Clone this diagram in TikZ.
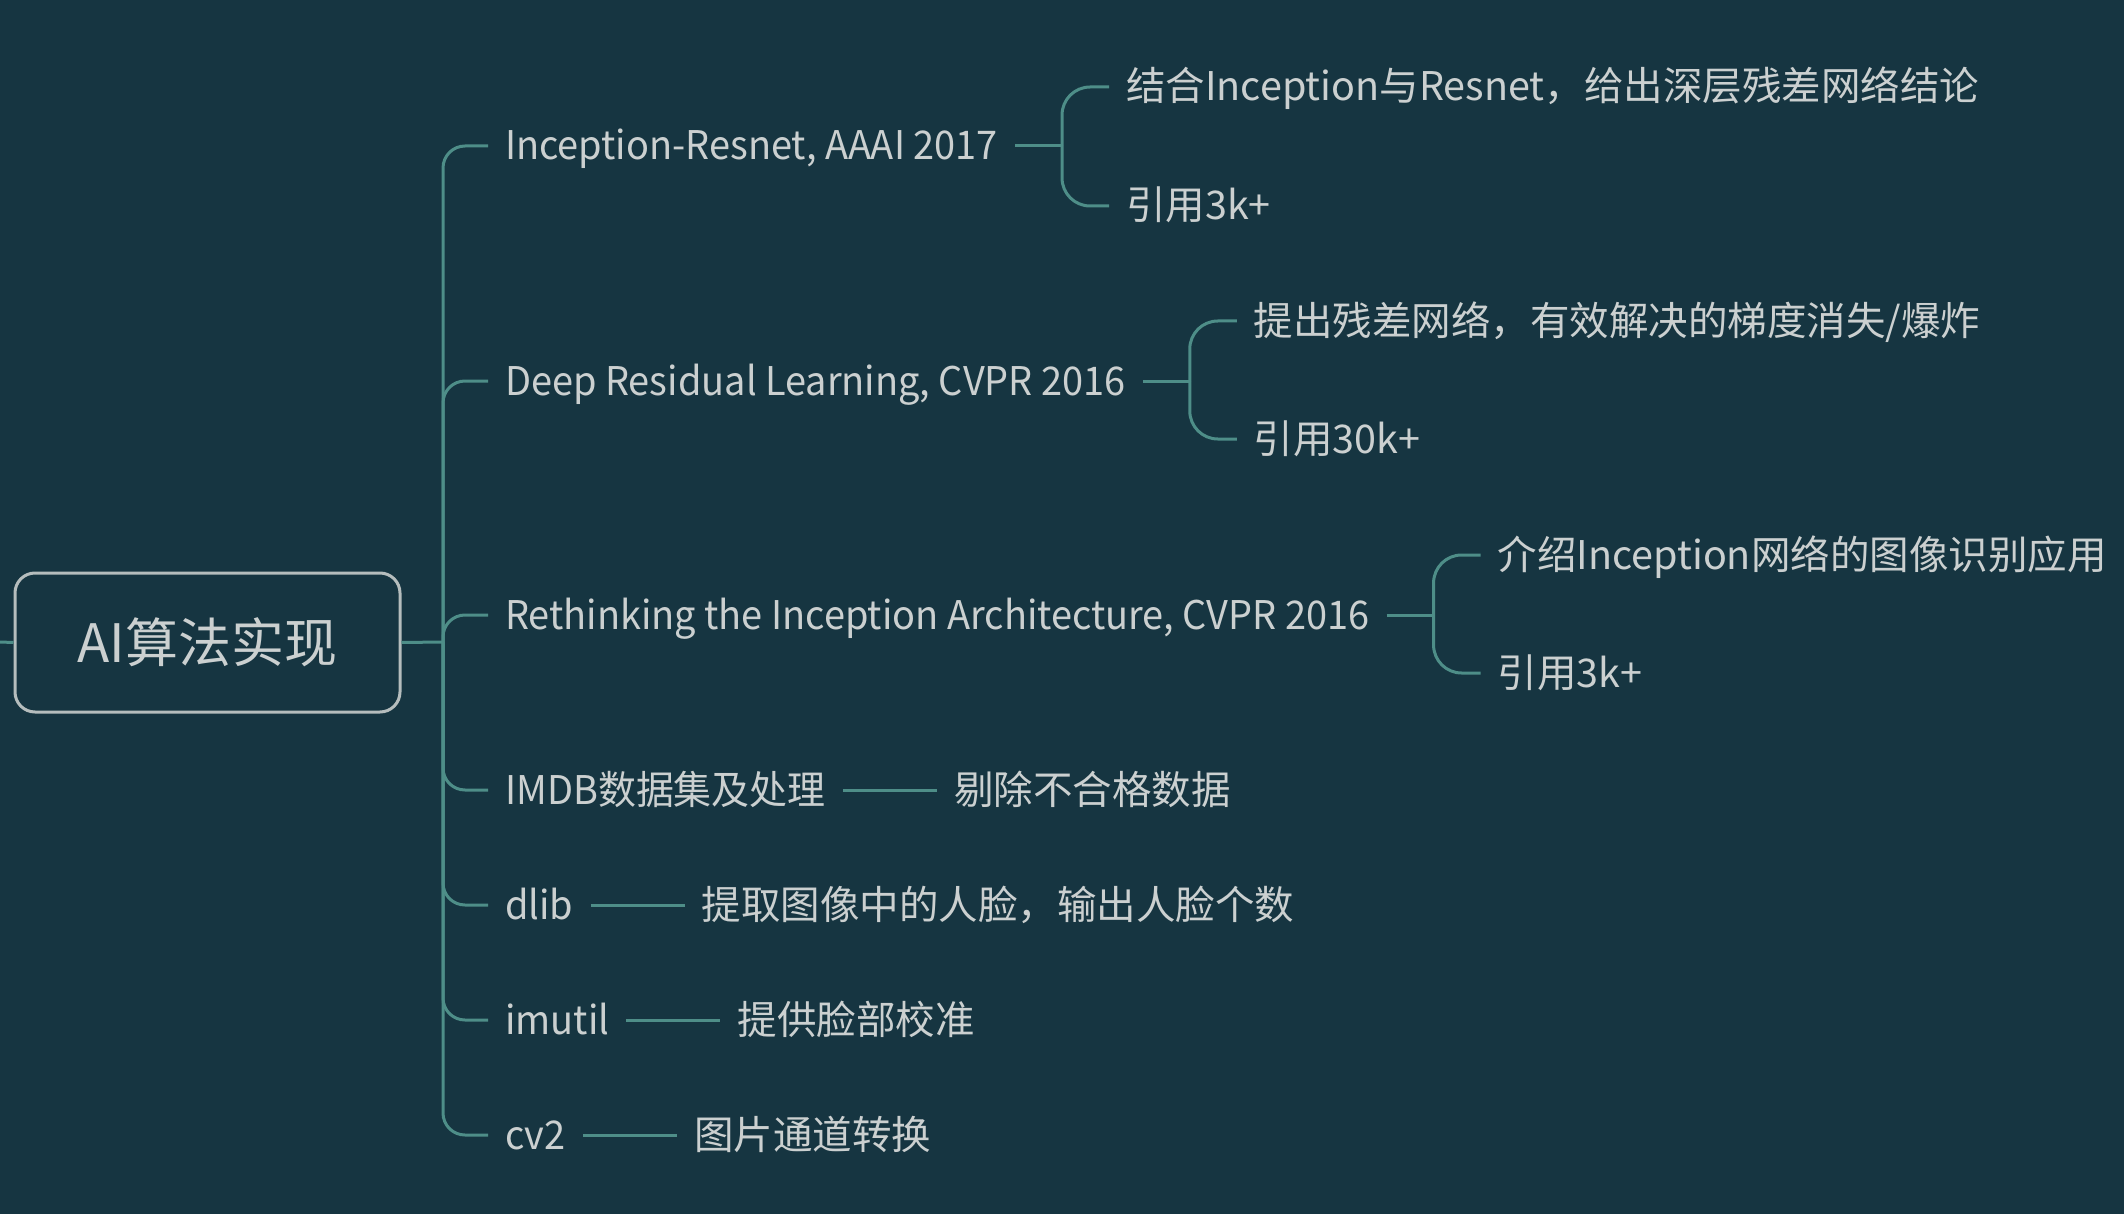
\documentclass[tikz,border=0pt]{standalone}
\usepackage{fontspec}
\setmainfont{Noto Sans CJK SC}
\newfontfamily\topicfont[FakeStretch=0.96]{Noto Sans CJK SC}
\usetikzlibrary{positioning}
\definecolor{bgDark}{HTML}{163541}
\definecolor{lineTeal}{HTML}{4E8E88}
\definecolor{textGrey}{HTML}{CBD0D0}
\definecolor{boxGrey}{HTML}{B5BDBD}

\begin{document}
\begin{tikzpicture}[
	x=1pt, y=-1pt,
	node distance=0pt and 94pt,
	font=\fontsize{39.5}{46}\selectfont
	]
\tikzset{
	base/.style = { text=textGrey, inner xsep=17pt, inner ysep=2pt, text height=36pt, text depth=8pt },
	topic/.style = { base, anchor=west, font=\fontsize{39.5}{46}\topicfont },
	leaf/.style = { base },
	central/.style = { rectangle, draw=boxGrey, line width=3pt, rounded corners=20pt, text=textGrey, minimum width=385pt, minimum height=139pt, font=\fontsize{53}{60}\selectfont },
	link/.style = { draw=lineTeal, line width=3pt },
	fork/.style = { link, rounded corners=22pt },
	subfork/.style = { link, rounded corners=28pt }
}
	% background
	\fill [bgDark] (0,0) rectangle (2124,1214);
	\useasboundingbox (0,0) rectangle (2124,1214);

	% central topic
	\node (root) [central] at (207.5,642.5) {AI算法实现};

	% main column
	\node (incRes) [topic] at (488,146) {Inception-Resnet, AAAI 2017};
	\node (deepRes) [topic] at (488,381) {Deep Residual Learning, CVPR 2016};
	\node (rethink) [topic] at (488,615) {Rethinking the Inception Architecture, CVPR 2016};
	\node (imdb) [topic] at (488,790) {IMDB数据集及处理};
	\node (dlib) [topic] at (488,905) {dlib};
	\node (imutil) [topic] at (488,1020) {imutil};
	\node (cvTwo) [topic] at (488,1135) {cv2};

	% side column
	\node (incResA) [leaf, right=of incRes, yshift=59pt] {结合Inception与Resnet，给出深层残差网络结论};
	\node (incResB) [leaf, right=of incRes, yshift=-60pt] {引用3k+};
	\node (deepResA) [leaf, right=of deepRes, yshift=60pt] {提出残差网络，有效解决的梯度消失/爆炸};
	\node (deepResB) [leaf, right=of deepRes, yshift=-58pt] {引用30k+};
	\node (rethinkA) [leaf, right=of rethink, yshift=60pt] {介绍Inception网络的图像识别应用};
	\node (rethinkB) [leaf, right=of rethink, yshift=-58pt] {引用3k+};
	\node (imdbA) [leaf, right=of imdb] {剔除不合格数据};
	\node (dlibA) [leaf, right=of dlib] {提取图像中的人脸，输出人脸个数};
	\node (imutilA) [leaf, right=of imutil] {提供脸部校准};
	\node (cvTwoA) [leaf, right=of cvTwo] {图片通道转换};

	% paths
	\coordinate (parent) at (0,642);
	\coordinate (trunk) at (443,642);
	\draw [link] (parent) -- (root.west);
	\draw [link] (root.east) -- (trunk);
	\foreach \topic in {incRes,deepRes,rethink,imdb,dlib,imutil,cvTwo}
		\draw [fork] (trunk) |- (\topic.west);

	% side column paths
	\foreach \topic in {incRes,deepRes,rethink} {
		\draw [link] (\topic.east) -- ++(47,0) coordinate (\topic J);
		\draw [subfork] (\topic J) |- (\topic A.west);
		\draw [subfork] (\topic J) |- (\topic B.west);
	}
	\foreach \topic in {imdb,dlib,imutil,cvTwo}
		\draw [link] (\topic.east) -- (\topic A.west);

\end{tikzpicture}
\end{document}
